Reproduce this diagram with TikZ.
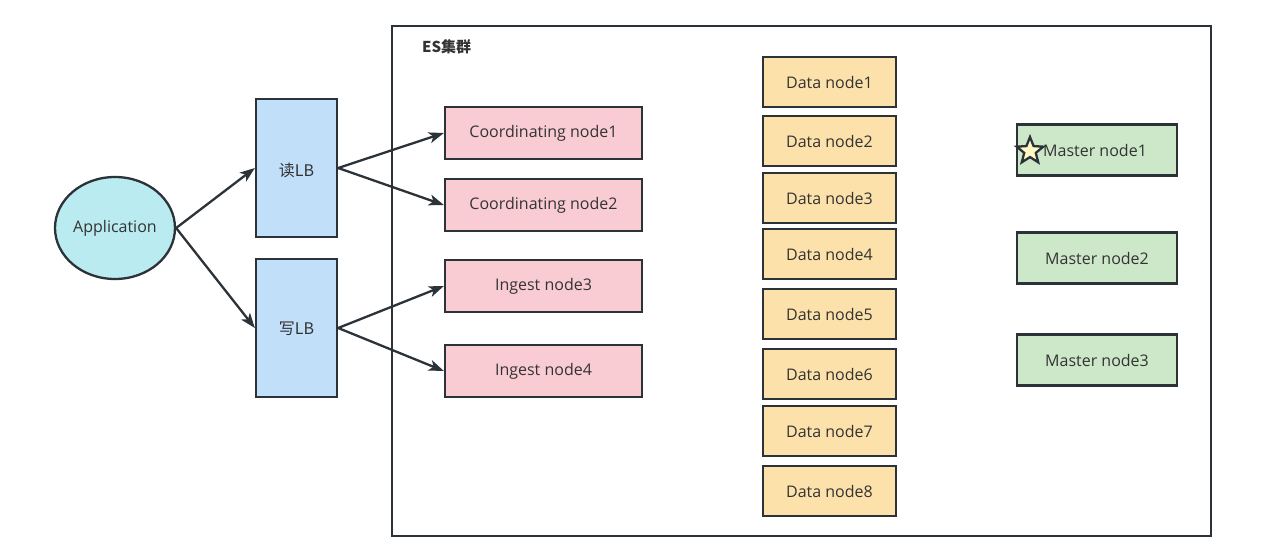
\documentclass[tikz,border=0pt]{standalone}
\usepackage{fontspec}
\setmainfont{Open Sans}
\newfontfamily\cjk{Noto Sans CJK SC}
\usetikzlibrary{arrows.meta,shapes.geometric}
\definecolor{edge}{HTML}{2B3238}
\definecolor{txt}{HTML}{333333}
\definecolor{appfill}{HTML}{B9EBF0}
\definecolor{lbfill}{HTML}{C2DFFA}
\definecolor{pinkfill}{HTML}{F9CCD4}
\definecolor{orangefill}{HTML}{FDE1AB}
\definecolor{greenfill}{HTML}{CDE8C9}
\definecolor{starfill}{HTML}{FFF8C4}
\begin{document}
\begin{tikzpicture}[x=1pt,y=-1pt,
  base/.style={draw=edge,line width=2.3pt,inner sep=0pt,text=txt,font=\fontsize{16}{19}\selectfont},
  lbbox/.style={base,fill=lbfill,minimum width=81,minimum height=138},
  coordbox/.style={base,fill=pinkfill,minimum width=197,minimum height=52},
  databox/.style={base,fill=orangefill,minimum width=133,minimum height=50},
  masterbox/.style={base,fill=greenfill,minimum width=160,minimum height=51},
  conn/.style={draw=edge,line width=2.3pt,-{Stealth[length=15pt,width=11pt,inset=4pt]}}
]
\useasboundingbox (0,0) rectangle (1266,554);
% cluster frame
\node[draw=edge,line width=2.3pt,minimum width=819,minimum height=510,inner sep=0pt] (es) at (801.5,281) {};
\node[anchor=west,text=txt,font=\cjk\bfseries\fontsize{15}{17}\selectfont,inner sep=0pt] (estitle) at (422,47) {ES集群};
% application
\node[base,ellipse,fill=appfill,minimum width=120,minimum height=102] (app) at (115,228) {Application};
% LBs
\node[lbbox] (rlb) at (296.5,168) {};
\node[text=txt,font=\cjk\fontsize{16}{19}\selectfont,inner sep=0pt] (rlbt) at (296.5,170) {读LB};
\node[lbbox] (wlb) at (296.5,328) {};
\node[text=txt,font=\cjk\fontsize{16}{19}\selectfont,inner sep=0pt] (wlbt) at (296.5,329) {写LB};
% coordinating / ingest
\node[coordbox] (c1) at (543.5,133) {Coordinating node1};
\node[coordbox] (c2) at (543.5,205) {Coordinating node2};
\node[coordbox] (i3) at (543.5,286) {Ingest node3};
\node[coordbox] (i4) at (543.5,371) {Ingest node4};
% data nodes
\node[databox] (d1) at (829.5,82) {Data node1};
\node[databox] (d2) at (829.5,141) {Data node2};
\node[databox] (d3) at (829.5,198) {Data node3};
\node[databox] (d4) at (829.5,254) {Data node4};
\node[databox] (d5) at (829.5,314) {Data node5};
\node[databox] (d6) at (829.5,374) {Data node6};
\node[databox] (d7) at (829.5,431) {Data node7};
\node[databox] (d8) at (829.5,491) {Data node8};
% master nodes
\node[masterbox] (m1) at (1097,150) {};
\node[text=txt,font=\fontsize{16}{19}\selectfont,inner sep=0pt,anchor=west] (m1t) at (1043,150) {Master node1};
\node[masterbox] (m2) at (1097,258) {Master node2};
\node[masterbox] (m3) at (1097,360) {Master node3};
\node[star,star points=5,star point ratio=2.3,draw=edge,line width=2.3pt,fill=starfill,minimum size=28,inner sep=0pt] (st) at (1030,151) {};
% connectors
\draw[conn] (app.east) -- (rlb.west);
\draw[conn] (app.east) -- (wlb.west);
\draw[conn] (rlb.east) -- (c1.west);
\draw[conn] (rlb.east) -- (c2.west);
\draw[conn] (wlb.east) -- (i3.west);
\draw[conn] (wlb.east) -- (i4.west);
\end{tikzpicture}
\end{document}
